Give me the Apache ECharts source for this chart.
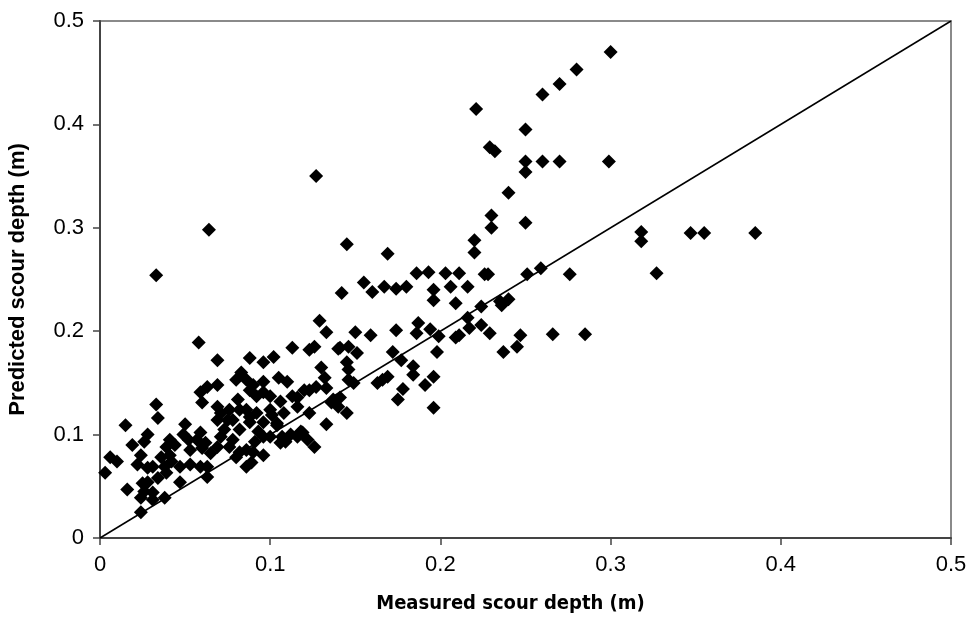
<!DOCTYPE html>
<html>
<head>
<meta charset="utf-8">
<script src="https://cdn.jsdelivr.net/npm/echarts@6/dist/echarts.min.js"></script>
<style>
html,body{margin:0;padding:0;background:#fff;}
#chart{width:970px;height:617px;}
</style>
</head>
<body>
<div id="chart"></div>
<script>
// Measured scour depth (m)
var measured = [
0.300,0.280,0.270,0.260,0.221,0.250,0.229,0.232,0.250,0.250,0.260,0.270,0.299,0.240,0.230,0.230,0.250,0.220,0.220,0.318,
0.318,0.347,0.355,0.385,0.327,0.276,0.259,0.251,0.226,0.228,0.266,0.285,0.224,0.235,0.236,0.240,0.224,0.229,0.247,0.245,
0.237,0.216,0.127,0.064,0.033,0.145,0.169,0.155,0.160,0.167,0.174,0.180,0.186,0.193,0.196,0.196,0.203,0.211,0.206,0.216,
0.209,0.142,0.150,0.159,0.174,0.187,0.186,0.194,0.199,0.217,0.209,0.211,0.141,0.146,0.151,0.145,0.172,0.177,0.198,0.184,
0.184,0.196,0.191,0.146,0.146,0.149,0.163,0.166,0.169,0.175,0.178,0.196,0.145,0.141,0.136,0.133,0.129,0.133,0.113,0.123,
0.126,0.140,0.088,0.096,0.102,0.130,0.132,0.058,0.069,0.083,0.080,0.096,0.090,0.086,0.105,0.110,0.063,0.059,0.060,0.069,
0.033,0.034,0.015,0.081,0.082,0.100,0.100,0.106,0.101,0.116,0.116,0.113,0.123,0.127,0.133,0.137,0.140,0.123,0.069,0.071,
0.069,0.076,0.078,0.075,0.086,0.088,0.092,0.096,0.093,0.096,0.104,0.107,0.112,0.116,0.119,0.122,0.126,0.106,0.109,0.019,
0.028,0.026,0.041,0.044,0.039,0.041,0.049,0.052,0.059,0.062,0.057,0.060,0.071,0.069,0.065,0.076,0.080,0.082,0.086,0.090,
0.089,0.086,0.096,0.006,0.010,0.003,0.024,0.022,0.028,0.031,0.036,0.034,0.039,0.047,0.053,0.059,0.063,0.047,0.063,0.042,
0.038,0.025,0.028,0.026,0.016,0.024,0.031,0.031,0.038,0.024,0.108,0.104,0.088,0.092,0.096,0.120,0.118,0.100,0.088,0.073,
0.082,0.078,0.091,0.053,0.050
];
// Predicted scour depth (m)
var predicted = [
0.470,0.453,0.439,0.429,0.415,0.395,0.378,0.374,0.364,0.354,0.364,0.364,0.364,0.334,0.312,0.300,0.305,0.288,0.276,0.296,
0.287,0.295,0.295,0.295,0.256,0.255,0.261,0.255,0.255,0.255,0.197,0.197,0.224,0.229,0.225,0.231,0.206,0.198,0.196,0.185,
0.180,0.213,0.350,0.298,0.254,0.284,0.275,0.247,0.238,0.243,0.241,0.243,0.256,0.257,0.240,0.230,0.256,0.256,0.243,0.243,
0.227,0.237,0.199,0.196,0.201,0.208,0.198,0.202,0.195,0.203,0.194,0.196,0.184,0.185,0.179,0.170,0.180,0.172,0.180,0.166,
0.158,0.156,0.148,0.163,0.153,0.150,0.150,0.153,0.156,0.134,0.144,0.126,0.121,0.136,0.131,0.110,0.210,0.199,0.184,0.182,
0.185,0.183,0.174,0.170,0.175,0.165,0.155,0.189,0.172,0.160,0.153,0.151,0.148,0.153,0.155,0.151,0.146,0.141,0.131,0.148,
0.129,0.116,0.109,0.134,0.124,0.137,0.124,0.132,0.119,0.136,0.127,0.137,0.143,0.146,0.145,0.134,0.127,0.121,0.127,0.121,
0.114,0.124,0.114,0.114,0.124,0.112,0.121,0.112,0.103,0.098,0.109,0.098,0.100,0.098,0.102,0.095,0.088,0.092,0.093,0.090,
0.100,0.093,0.095,0.090,0.088,0.080,0.100,0.095,0.102,0.092,0.095,0.087,0.098,0.088,0.082,0.088,0.078,0.083,0.085,0.083,
0.073,0.069,0.080,0.078,0.074,0.063,0.080,0.071,0.068,0.069,0.078,0.058,0.063,0.069,0.071,0.069,0.069,0.054,0.059,0.074,
0.069,0.053,0.054,0.045,0.047,0.039,0.044,0.037,0.039,0.025,0.121,0.111,0.143,0.137,0.141,0.143,0.103,0.098,0.117,0.105,
0.105,0.095,0.093,0.085,0.110
];
// 1:1 reference line
var lineX = [0, 0.5];
var lineY = [0, 0.5];
var xTicks = [0, 0.1, 0.2, 0.3, 0.4, 0.5];
var yTicks = [0, 0.1, 0.2, 0.3, 0.4, 0.5];

var points = measured.map(function (m, i) { return [m, predicted[i]]; });
var linePts = lineX.map(function (v, i) { return [v, lineY[i]]; });

function tickFmt(list) {
  return function (v) {
    var t = list.filter(function (k) { return Math.abs(k - v) < 1e-9; });
    return t.length ? String(t[0]) : '';
  };
}

var chart = echarts.init(document.getElementById('chart'), null, {renderer: 'canvas'});
chart.setOption({
  animation: false,
  backgroundColor: '#ffffff',
  grid: {left: 100, right: 19, top: 21, bottom: 79, containLabel: false, outerBoundsMode: 'none',
         show: true, borderColor: '#8a8a8a', borderWidth: 2, backgroundColor: 'transparent'},
  xAxis: {
    type: 'value', min: 0, max: 0.5, interval: 0.1,
    name: 'Measured scour depth (m)', nameLocation: 'middle', nameGap: 56, nameMoveOverlap: false,
    nameTextStyle: {fontFamily: '"DejaVu Sans Condensed","Liberation Sans",Arial,sans-serif', fontWeight: 'bold', fontSize: 20, color: '#000',
      padding: [0, 30, 0, 0]},
    axisLine: {show: true, onZero: false, lineStyle: {color: '#444', width: 2}},
    axisTick: {show: true, inside: false, length: 7, lineStyle: {color: '#444', width: 1.5}},
    axisLabel: {margin: 16, fontSize: 22, color: '#000', fontFamily: '"Liberation Sans",Arial,sans-serif',
      formatter: tickFmt(xTicks)},
    splitLine: {show: false}
  },
  yAxis: {
    type: 'value', min: 0, max: 0.5, interval: 0.1,
    name: 'Predicted scour depth (m)', nameLocation: 'middle', nameGap: 71, nameMoveOverlap: false,
    nameTextStyle: {fontFamily: '"Liberation Sans",Arial,sans-serif', fontWeight: 'bold', fontSize: 22, color: '#000'},
    axisLine: {show: true, onZero: false, lineStyle: {color: '#444', width: 2}},
    axisTick: {show: true, inside: false, length: 7, lineStyle: {color: '#444', width: 1.5}},
    axisLabel: {margin: 16, fontSize: 22, color: '#000', fontFamily: '"Liberation Sans",Arial,sans-serif',
      formatter: tickFmt(yTicks)},
    splitLine: {show: false}
  },
  series: [
    {
      type: 'line', data: linePts, showSymbol: false, symbol: 'none',
      lineStyle: {color: '#000', width: 1.5}, z: 3, silent: true
    },
    {
      type: 'scatter', data: points, symbol: 'diamond', symbolSize: 14,
      itemStyle: {color: '#000', opacity: 1}, z: 4
    }
  ]
});
</script>
</body>
</html>
